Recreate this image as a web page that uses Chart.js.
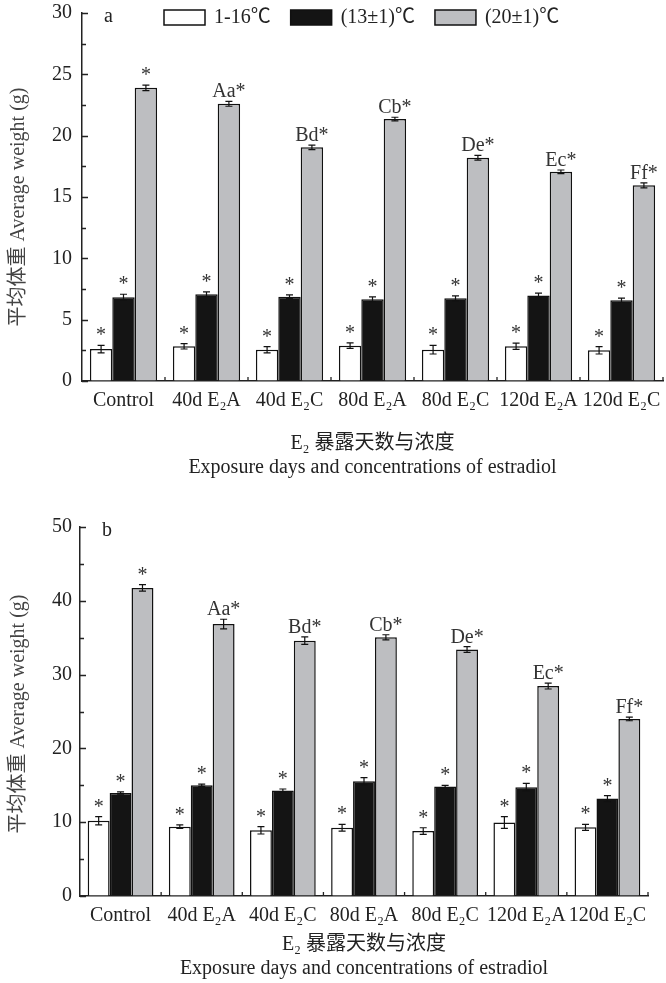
<!DOCTYPE html>
<html>
<head>
<meta charset="utf-8">
<script src="https://cdn.jsdelivr.net/npm/chart.js@4.4.1/dist/chart.umd.min.js"></script>
<style>
  body { margin: 0; background: #fff; width: 666px; height: 983px; overflow: hidden; }
  .panel { position: absolute; left: 0; width: 666px; }
  #wrapA { top: 0; height: 480px; }
  #wrapB { top: 480px; height: 503px; }
</style>
</head>
<body>
<div class="panel" id="wrapA"><canvas id="chartA" width="666" height="480"></canvas></div>
<div class="panel" id="wrapB"><canvas id="chartB" width="666" height="503"></canvas></div>
<script>
const CATEGORIES = ["Control", "40d E₂A", "40d E₂C", "80d E₂A", "80d E₂C", "120d E₂A", "120d E₂C"];
const SERIES = ["1-16℃", "(13±1)℃", "(20±1)℃"];
const HIGH_MARKS = ["*", "Aa*", "Bd*", "Cb*", "De*", "Ec*", "Ff*"];
const STAR_MARKS = ["*", "*", "*", "*", "*", "*", "*"];

// panel a
const A_LOW = [2.6, 2.83, 2.55, 2.88, 2.55, 2.83, 2.5];
const A_LOW_ERR = [0.3, 0.22, 0.25, 0.22, 0.35, 0.25, 0.3];
const A_MID = [6.82, 7.07, 6.87, 6.66, 6.74, 6.98, 6.58];
const A_MID_ERR = [0.25, 0.2, 0.15, 0.2, 0.2, 0.18, 0.18];
const A_HIGH = [23.9, 22.6, 19.05, 21.35, 18.2, 17.05, 15.95];
const A_HIGH_ERR = [0.22, 0.2, 0.18, 0.15, 0.2, 0.15, 0.2];

// panel b
const B_LOW = [10.2, 9.4, 8.9, 9.25, 8.8, 9.95, 9.3];
const B_LOW_ERR = [0.55, 0.25, 0.5, 0.45, 0.45, 0.8, 0.4];
const B_MID = [13.95, 15.0, 14.3, 15.55, 14.85, 14.75, 13.2];
const B_MID_ERR = [0.15, 0.15, 0.2, 0.5, 0.15, 0.5, 0.4];
const B_HIGH = [41.75, 36.85, 34.6, 35.05, 33.4, 28.45, 24.0];
const B_HIGH_ERR = [0.45, 0.65, 0.5, 0.35, 0.4, 0.4, 0.25];

const Y_TITLE = "平均体重 Average weight (g)";
const X_TITLE = ["E₂ 暴露天数与浓度", "Exposure days and concentrations of estradiol"];

const FAMILY = "'Liberation Serif', 'Noto Sans CJK SC', serif";
const FONT20 = "20px " + FAMILY;
const FILLS = ["#ffffff", "#141414", "#bdbec1"];

/**
 * error bars, marks, inward ticks, legend and panel letter
 */
const decor = {
  id: "decor",
  afterDatasetsDraw(chart) {
    const { ctx, scales: { y } } = chart;
    ctx.save();
    chart.data.datasets.forEach((ds, i) => {
      const meta = chart.getDatasetMeta(i);
      meta.data.forEach((bar, j) => {
        const v = ds.data[j], e = ds.errors[j];
        const top = y.getPixelForValue(v + e);
        const bot = y.getPixelForValue(v - e);
        ctx.strokeStyle = "#111";
        ctx.lineWidth = 1.2;
        ctx.beginPath();
        ctx.moveTo(bar.x, top); ctx.lineTo(bar.x, bot);
        ctx.moveTo(bar.x - 3.5, top); ctx.lineTo(bar.x + 3.5, top);
        ctx.moveTo(bar.x - 3.5, bot); ctx.lineTo(bar.x + 3.5, bot);
        ctx.stroke();
        ctx.font = FONT20;
        ctx.fillStyle = "#333";
        ctx.textAlign = "center";
        ctx.textBaseline = "alphabetic";
        ctx.fillText(ds.marks[j], bar.x, top - 4);
      });
    });
    ctx.restore();
  },
  afterDraw(chart, args, opts) {
    const { ctx, chartArea: ca, scales: { x, y } } = chart;
    ctx.save();
    ctx.strokeStyle = "#222";
    ctx.lineWidth = 1.3;
    ctx.beginPath();
    for (let v = y.min; v <= y.max + 1e-9; v += opts.minorStep) {
      const py = Math.round(y.getPixelForValue(v)) + 0.5;
      const len = Math.abs(v % opts.majorStep) < 1e-9 ? 6 : 4;
      ctx.moveTo(ca.left, py); ctx.lineTo(ca.left + len, py);
    }
    for (let i = 0; i < CATEGORIES.length; i++) {
      const px = x.getPixelForValue(i + 0.5);
      ctx.moveTo(px, ca.bottom); ctx.lineTo(px, ca.bottom - 4);
    }
    ctx.stroke();

    ctx.font = FONT20;
    ctx.fillStyle = "#222";
    ctx.textAlign = "left";
    ctx.textBaseline = "middle";
    ctx.fillText(opts.letter, ca.left + 22, ca.top + 4);

    if (opts.legend) {
      let lx = 164;
      const ly = 10;
      chart.data.datasets.forEach(ds => {
        ctx.fillStyle = ds.backgroundColor;
        ctx.fillRect(lx, ly, 41, 15);
        ctx.strokeStyle = "#111";
        ctx.lineWidth = 1.5;
        ctx.strokeRect(lx, ly, 41, 15);
        ctx.fillStyle = "#222";
        ctx.fillText(ds.label, lx + 50, ly + 8);
        lx += 50 + ctx.measureText(ds.label).width + 20;
      });
    }
    ctx.restore();
  }
};

function makeChart(id, series, errs, o) {
  const marks = [STAR_MARKS, STAR_MARKS, HIGH_MARKS];
  return new Chart(document.getElementById(id).getContext("2d"), {
    type: "bar",
    data: {
      labels: CATEGORIES,
      datasets: series.map((d, i) => ({
        label: SERIES[i],
        data: d,
        errors: errs[i],
        marks: marks[i],
        backgroundColor: FILLS[i],
        borderColor: "#111",
        borderWidth: 1.5,
        categoryPercentage: 0.81,
        barPercentage: 1
      }))
    },
    options: {
      responsive: false,
      animation: false,
      layout: { padding: o.padding },
      plugins: {
        legend: { display: false },
        tooltip: { enabled: false },
        decor: { letter: o.letter, legend: o.legend, majorStep: o.step, minorStep: o.step / 2 }
      },
      scales: {
        x: {
          grid: { display: true, drawOnChartArea: false, drawTicks: false },
          border: { color: "#222", width: 1.5 },
          ticks: { color: "#222", font: { family: FAMILY, size: 20 }, padding: 8, autoSkip: false, maxRotation: 0, minRotation: 0 },
          title: { display: true, text: X_TITLE, color: "#222", font: { family: FAMILY, size: 20, lineHeight: 1.22 }, padding: { top: 0, bottom: o.xTitlePad } },
          afterFit: s => { s.height = o.xHeight; s.paddingLeft = 0; s.paddingRight = 0; }
        },
        y: {
          min: 0,
          max: o.max,
          grid: { display: true, drawOnChartArea: false, drawTicks: false },
          border: { color: "#222", width: 1.5 },
          ticks: { stepSize: o.step, color: "#222", font: { family: FAMILY, size: 20 }, padding: o.yPad },
          title: { display: true, text: Y_TITLE + o.titleTail, color: "#444", font: { family: FAMILY, size: 20 }, padding: { top: 7, bottom: 0 } },
          afterFit: s => { s.width = o.yWidth; s.paddingTop = 0; s.paddingBottom = 0; }
        }
      }
    },
    plugins: [decor]
  });
}

makeChart("chartA", [A_LOW, A_MID, A_HIGH], [A_LOW_ERR, A_MID_ERR, A_HIGH_ERR], {
  letter: "a", legend: true, max: 30, step: 5,
  padding: { top: 13, right: 3, left: 0, bottom: 0 },
  yWidth: 82, yPad: 10, xHeight: 99, xTitlePad: 0, titleTail: "    "
});

makeChart("chartB", [B_LOW, B_MID, B_HIGH], [B_LOW_ERR, B_MID_ERR, B_HIGH_ERR], {
  letter: "b", legend: false, max: 50, step: 10,
  padding: { top: 47, right: 18, left: 0, bottom: 0 },
  yWidth: 80, yPad: 8, xHeight: 87, xTitlePad: 2, titleTail: " "
});
</script>
</body>
</html>
